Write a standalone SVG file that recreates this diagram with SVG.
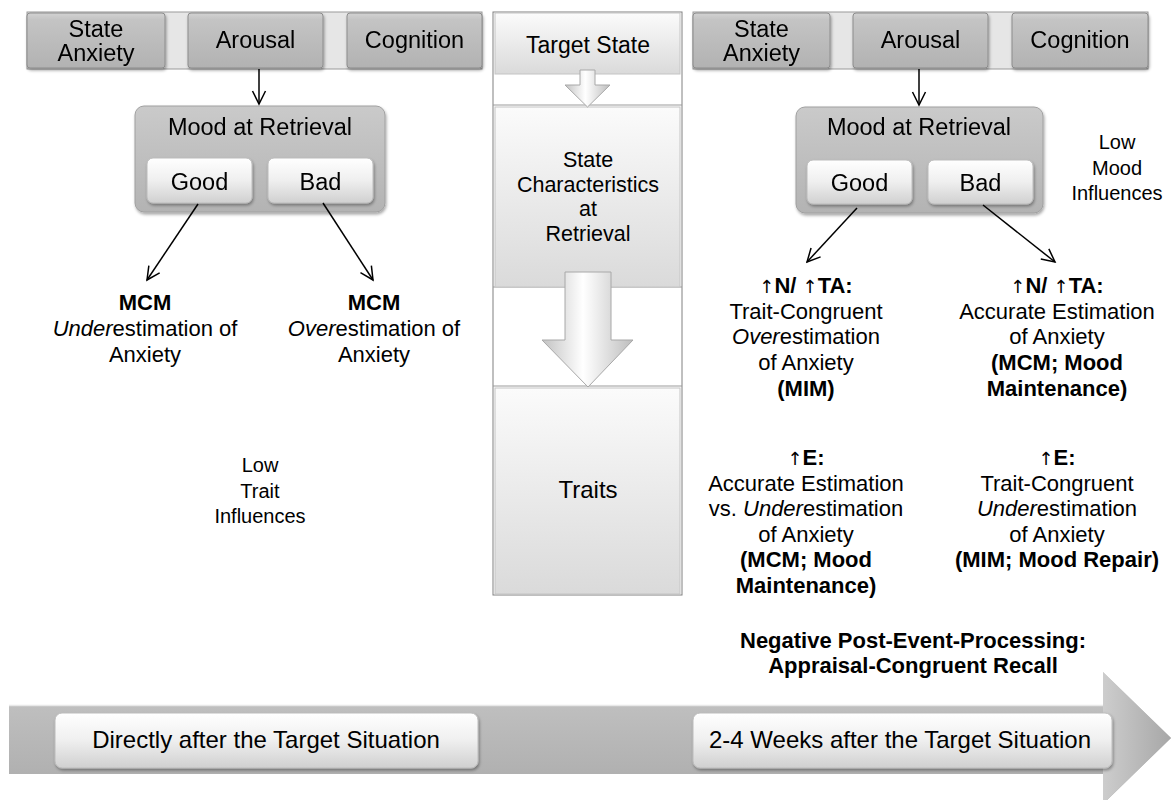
<svg xmlns="http://www.w3.org/2000/svg" width="1171" height="800" viewBox="0 0 1171 800">
<style>
text{font-family:"Liberation Sans",Arial,sans-serif;fill:#000;text-anchor:middle}
.b22{font-size:22px}
.bx{font-size:23.5px}
.cc{font-size:24px}
.cs{font-size:21.5px}
.lo{font-size:20px}
.bold{font-weight:bold}
.it{font-style:italic}
.up{font-weight:normal;font-family:"DejaVu Sans",sans-serif;font-size:18px}
.bar{fill:#e6e6e6;stroke:#9a9a9a;stroke-width:1}
.gbox{fill:url(#gGray);stroke:#8c8c8c;stroke-width:1}
.mood{fill:url(#gMood);stroke:#a0a0a0;stroke-width:1}
.wbox{fill:url(#gWhite);stroke:#bcbcbc;stroke-width:1}
.cbox{fill:url(#gCenter);stroke:#c4c4c4;stroke-width:1}
.conn{stroke:#000;stroke-width:1.5;fill:none;marker-end:url(#arr)}
.carrow{fill:url(#gArrow);stroke:#a8a8a8;stroke-width:1}
</style>
<defs>
<linearGradient id="gGray" x1="0" y1="0" x2="0" y2="1">
<stop offset="0" stop-color="#d2d2d2"/><stop offset="0.12" stop-color="#c4c4c4"/><stop offset="1" stop-color="#b2b2b2"/>
</linearGradient>
<linearGradient id="gMood" x1="0" y1="0" x2="0" y2="1">
<stop offset="0" stop-color="#cacaca"/><stop offset="1" stop-color="#b3b3b3"/>
</linearGradient>
<linearGradient id="gWhite" x1="0" y1="0" x2="0" y2="1">
<stop offset="0" stop-color="#ffffff"/><stop offset="0.5" stop-color="#efefef"/><stop offset="1" stop-color="#d0d0d0"/>
</linearGradient>
<linearGradient id="gCenter" x1="0" y1="0" x2="0" y2="1">
<stop offset="0" stop-color="#fbfbfb"/><stop offset="1" stop-color="#dadada"/>
</linearGradient>
<linearGradient id="gArrow" x1="0" y1="0" x2="1" y2="0">
<stop offset="0" stop-color="#c2c2c2"/><stop offset="0.45" stop-color="#ffffff"/><stop offset="0.55" stop-color="#f4f4f4"/><stop offset="1" stop-color="#bdbdbd"/>
</linearGradient>
<linearGradient id="gBand" x1="0" y1="0" x2="0" y2="1">
<stop offset="0" stop-color="#c6c6c6"/><stop offset="1" stop-color="#aaaaaa"/>
</linearGradient>
<linearGradient id="gHead" x1="0" y1="0" x2="1" y2="0">
<stop offset="0" stop-color="#cdcdcd"/><stop offset="1" stop-color="#a7a7a7"/>
</linearGradient>
<filter id="sh" x="-10%" y="-10%" width="130%" height="140%">
<feDropShadow dx="1" dy="2" stdDeviation="1.5" flood-color="#000" flood-opacity="0.35"/>
</filter>
<marker id="arr" markerUnits="userSpaceOnUse" markerWidth="16" markerHeight="16" viewBox="0 0 16 16" refX="14" refY="8" orient="auto">
<path d="M1,1.5 L14,8 L1,14.5" fill="none" stroke="#000" stroke-width="1.5"/>
</marker>
</defs>
<rect width="1171" height="800" fill="#fff"/>

<!-- bottom timeline arrow -->
<g id="timeline">
<polygon points="9,705 1103,705 1103,672 1171,738 1103,804 1103,774 9,774" fill="url(#gBand)" stroke="none"/>
<polygon points="1103,672 1171,738 1103,804" fill="url(#gHead)"/>
<line x1="9" y1="705.5" x2="1103" y2="705.5" stroke="#e8e8e8" stroke-width="1.5"/>
</g>
<g id="t-direct" filter="url(#sh)">
<rect x="55" y="713" width="423" height="55" rx="7" class="wbox"/>
</g>
<text class="cc" x="266" y="748">Directly after the Target Situation</text>
<g id="t-weeks" filter="url(#sh)">
<rect x="693" y="713" width="419" height="55" rx="7" class="wbox"/>
</g>
<text class="cc" x="900" y="748">2-4 Weeks after the Target Situation</text>

<!-- center column -->
<g id="center">
<rect x="493" y="12" width="189" height="583" fill="#fff" stroke="#808080" stroke-width="1"/>
<line x1="493" y1="105" x2="682" y2="105" stroke="#9a9a9a"/>
<line x1="493" y1="287" x2="682" y2="287" stroke="#9a9a9a"/>
<line x1="493" y1="386" x2="682" y2="386" stroke="#9a9a9a"/>
</g>
<g id="target-state">
<rect x="495" y="13" width="185" height="61" class="cbox"/>
<text class="cc" x="588" y="53" style="font-size:23px">Target State</text>
</g>
<g id="state-char">
<rect x="495" y="107" width="185" height="180" class="cbox"/>
<text class="cs" x="588" y="167">State</text>
<text class="cs" x="588" y="191.5">Characteristics</text>
<text class="cs" x="588" y="216">at</text>
<text class="cs" x="588" y="240.5">Retrieval</text>
</g>
<g id="traits">
<rect x="495" y="388" width="185" height="206" class="cbox"/>
<text class="cc" x="588" y="498">Traits</text>
</g>
<g id="center-arrows">
<polygon class="carrow" points="580,70 595,70 595,85 610,85 587.5,107 565,85 580,85"/>
<polygon class="carrow" points="565,272 611,272 611,340 633,340 588,387 542,340 565,340"/>
</g>

<!-- left top bar -->
<g id="left-bar">
<rect x="27" y="12" width="455" height="57" class="bar"/>
</g>
<g id="l-state" filter="url(#sh)">
<rect x="27" y="13" width="138" height="55" rx="3" class="gbox"/>
<text class="bx" x="96" y="37">State</text>
<text class="bx" x="96" y="61">Anxiety</text>
</g>
<g id="l-arousal" filter="url(#sh)">
<rect x="188" y="13" width="135" height="55" rx="3" class="gbox"/>
<text class="bx" x="255.5" y="48">Arousal</text>
</g>
<g id="l-cognition" filter="url(#sh)">
<rect x="347" y="13" width="135" height="55" rx="3" class="gbox"/>
<text class="bx" x="414.5" y="48">Cognition</text>
</g>
<g id="l-mood" filter="url(#sh)">
<rect x="135" y="106" width="250" height="106" rx="9" class="mood"/>
<text class="bx" x="260" y="135">Mood at Retrieval</text>
</g>
<g id="l-good" filter="url(#sh)">
<rect x="147" y="158" width="105" height="45" rx="6" class="wbox"/>
<text class="bx" x="199.5" y="190">Good</text>
</g>
<g id="l-bad" filter="url(#sh)">
<rect x="268" y="158" width="105" height="45" rx="6" class="wbox"/>
<text class="bx" x="320.5" y="190">Bad</text>
</g>
<g id="l-under">
<text class="b22 bold" x="145" y="310">MCM</text>
<text class="b22" x="145" y="336"><tspan class="it">Under</tspan>estimation of</text>
<text class="b22" x="145" y="362">Anxiety</text>
</g>
<g id="l-over">
<text class="b22 bold" x="374" y="310">MCM</text>
<text class="b22" x="374" y="336"><tspan class="it">Over</tspan>estimation of</text>
<text class="b22" x="374" y="362">Anxiety</text>
</g>
<g id="l-lowtrait">
<text class="lo" x="260" y="472">Low</text>
<text class="lo" x="260" y="497.5">Trait</text>
<text class="lo" x="260" y="523">Influences</text>
</g>

<!-- right top bar -->
<g id="right-bar">
<rect x="693" y="12" width="455" height="57" class="bar"/>
</g>
<g id="r-state" filter="url(#sh)">
<rect x="693" y="13" width="137" height="55" rx="3" class="gbox"/>
<text class="bx" x="761.5" y="37">State</text>
<text class="bx" x="761.5" y="61">Anxiety</text>
</g>
<g id="r-arousal" filter="url(#sh)">
<rect x="853" y="13" width="135" height="55" rx="3" class="gbox"/>
<text class="bx" x="920.5" y="48">Arousal</text>
</g>
<g id="r-cognition" filter="url(#sh)">
<rect x="1012" y="13" width="136" height="55" rx="3" class="gbox"/>
<text class="bx" x="1080" y="48">Cognition</text>
</g>
<g id="r-mood" filter="url(#sh)">
<rect x="796" y="107" width="247" height="106" rx="9" class="mood"/>
<text class="bx" x="919" y="135">Mood at Retrieval</text>
</g>
<g id="r-good" filter="url(#sh)">
<rect x="807" y="160" width="105" height="44" rx="6" class="wbox"/>
<text class="bx" x="859.5" y="191">Good</text>
</g>
<g id="r-bad" filter="url(#sh)">
<rect x="928" y="160" width="105" height="44" rx="6" class="wbox"/>
<text class="bx" x="980.5" y="191">Bad</text>
</g>
<g id="r-lowmood">
<text class="lo" x="1117" y="149">Low</text>
<text class="lo" x="1117" y="174.5">Mood</text>
<text class="lo" x="1117" y="200">Influences</text>
</g>
<g id="r-good-ta">
<text class="b22 bold" x="806" y="293"><tspan class="up">↑&#xFE0E;</tspan>N/ <tspan class="up">↑&#xFE0E;</tspan>TA:</text>
<text class="b22" x="806" y="318.5">Trait-Congruent</text>
<text class="b22" x="806" y="344"><tspan class="it">Over</tspan>estimation</text>
<text class="b22" x="806" y="370">of Anxiety</text>
<text class="b22 bold" x="806" y="395.5">(MIM)</text>
</g>
<g id="r-bad-ta">
<text class="b22 bold" x="1057" y="293"><tspan class="up">↑&#xFE0E;</tspan>N/ <tspan class="up">↑&#xFE0E;</tspan>TA:</text>
<text class="b22" x="1057" y="318.5">Accurate Estimation</text>
<text class="b22" x="1057" y="344">of Anxiety</text>
<text class="b22 bold" x="1057" y="370">(MCM; Mood</text>
<text class="b22 bold" x="1057" y="395.5">Maintenance)</text>
</g>
<g id="r-good-e">
<text class="b22 bold" x="806" y="465"><tspan class="up">↑&#xFE0E;</tspan>E:</text>
<text class="b22" x="806" y="490.5">Accurate Estimation</text>
<text class="b22" x="806" y="516">vs. <tspan class="it">Under</tspan>estimation</text>
<text class="b22" x="806" y="541.5">of Anxiety</text>
<text class="b22 bold" x="806" y="567">(MCM; Mood</text>
<text class="b22 bold" x="806" y="592.5">Maintenance)</text>
</g>
<g id="r-bad-e">
<text class="b22 bold" x="1057" y="465"><tspan class="up">↑&#xFE0E;</tspan>E:</text>
<text class="b22" x="1057" y="490.5">Trait-Congruent</text>
<text class="b22" x="1057" y="516"><tspan class="it">Under</tspan>estimation</text>
<text class="b22" x="1057" y="541.5">of Anxiety</text>
<text class="b22 bold" x="1057" y="567">(MIM; Mood Repair)</text>
</g>
<g id="negative-pep">
<text class="b22 bold" x="913" y="648">Negative Post-Event-Processing:</text>
<text class="b22 bold" x="913" y="673">Appraisal-Congruent Recall</text>
</g>

<!-- connectors -->
<g id="connectors">
<line class="conn" x1="259" y1="69" x2="259" y2="104"/>
<line class="conn" x1="198" y1="204" x2="147" y2="280"/>
<line class="conn" x1="323" y1="203" x2="373" y2="280"/>
<line class="conn" x1="919" y1="69" x2="919" y2="105"/>
<line class="conn" x1="857" y1="208" x2="807" y2="262"/>
<line class="conn" x1="983" y1="205" x2="1055" y2="262"/>
</g>
</svg>
